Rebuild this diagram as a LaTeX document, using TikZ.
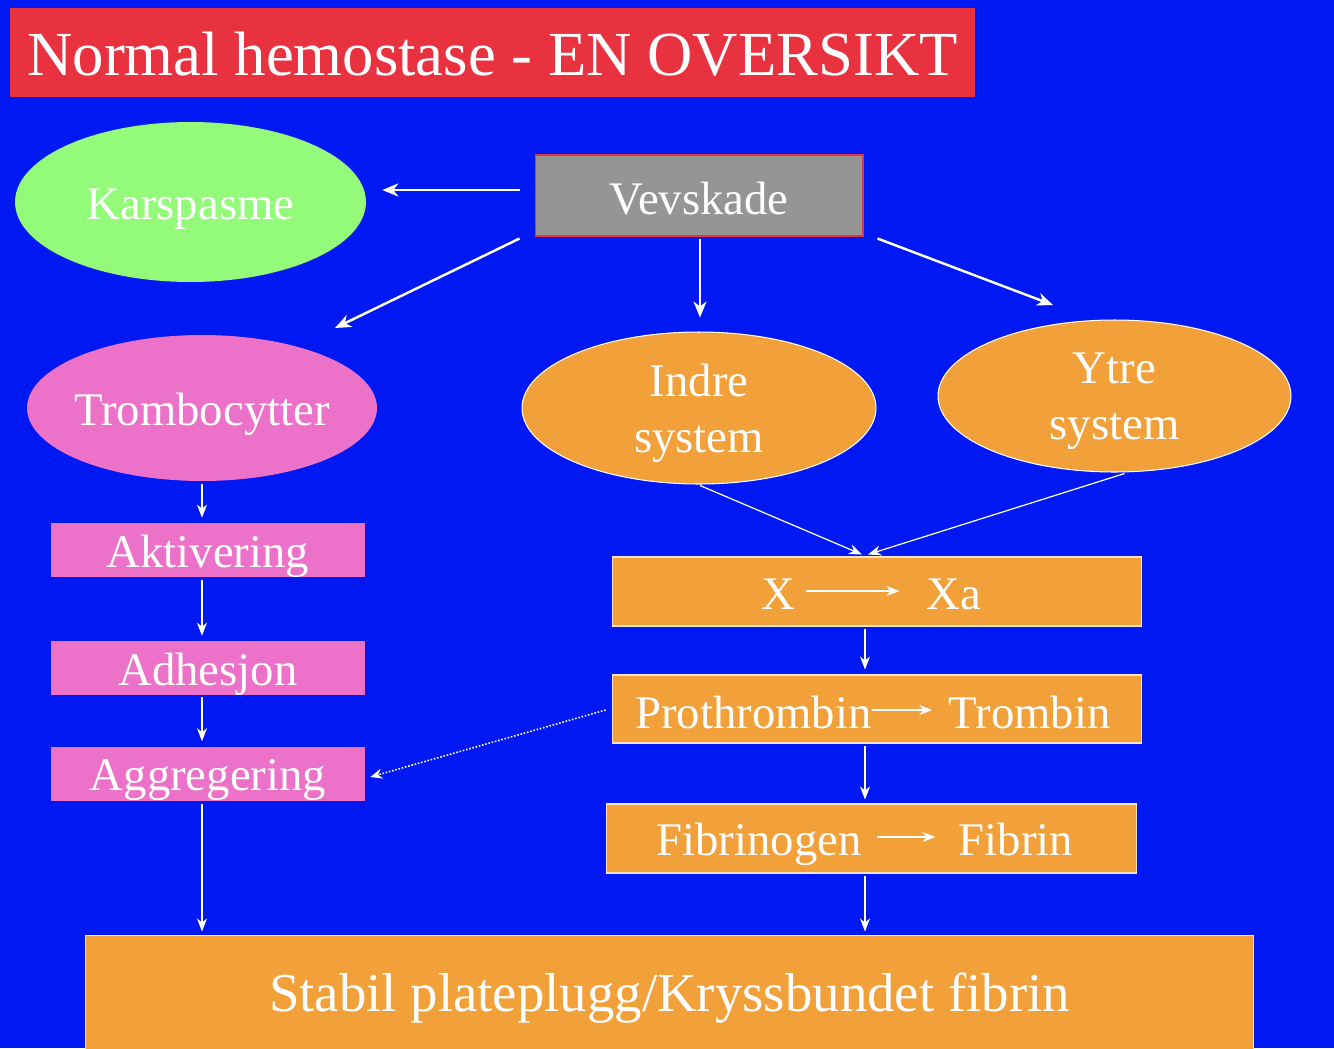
\documentclass[tikz,border=0pt]{standalone}
\usepackage{fontspec}
\setmainfont{Liberation Serif}
\usetikzlibrary{shapes.geometric,arrows.meta}
\definecolor{hemblue}{HTML}{0018F2}
\definecolor{hemred}{HTML}{E83240}
\definecolor{hemgreen}{HTML}{94FB7A}
\definecolor{hemgray}{HTML}{959595}
\definecolor{hempink}{HTML}{EB72C8}
\definecolor{hemorange}{HTML}{F2A03A}

\begin{document}
\begin{tikzpicture}[x=0.02cm,y=-0.02cm,
  txt/.style={text=white,inner sep=0pt,font=\fontsize{26.6}{31.75}\selectfont,text height=0.88cm,text depth=0.2cm},
  oval/.style={ellipse,txt},
  sysoval/.style={ellipse,fill=hemorange,draw=white,line width=0.6pt,inner sep=0pt,text=white,align=center,
    font=\fontsize{26.6}{31.75}\selectfont,text depth=0cm,minimum height=3.04cm},
  pinkbox/.style={rectangle,fill=hempink,minimum width=6.28cm,minimum height=1.08cm,txt},
  orangebox/.style={rectangle,fill=hemorange,draw=white!70!hemorange,line width=0.6pt,minimum height=1.38cm},
  rowtxt/.style={anchor=base,txt,text height=0.72cm,text depth=0cm},
  bigarrow/.style={white,line width=1.4pt,-{Stealth[length=0.32cm,width=0.26cm,inset=0.1cm]}},
  arrow/.style={white,line width=0.7pt,-{Stealth[length=0.26cm,width=0.2cm,inset=0.08cm]}},
  dotarrow/.style={white,line width=0.9pt,dash pattern=on 0.9pt off 1pt,-{Stealth[length=0.24cm,width=0.2cm,inset=0.08cm]}}]
  \useasboundingbox (0,0) rectangle (1334,1048);
  \clip (0,0) rectangle (1334,1048);
  \fill[hemblue] (0,0) rectangle (1334,1048);
  \node[fill=hemred,minimum width=19.3cm,minimum height=1.78cm,inner sep=0pt,text=white,
    font=\fontsize{35.7}{40}\selectfont,text height=1.21cm,text depth=0.27cm] (title) at (492.5,52.5) {Normal hemostase - EN OVERSIKT};
  \node[oval,fill=hemgreen,minimum width=7.02cm,minimum height=3.2cm] (kar) at (190.5,202) {Karspasme};
  \node[fill=hemgray,draw=hemred,line width=0.6pt,minimum width=6.56cm,minimum height=1.62cm,txt,text height=0.98cm] (vev) at (699,195.5) {Vevskade};
  \node[oval,fill=hempink,minimum width=7cm,minimum height=2.92cm,inner xsep=-0.12cm] (trom) at (202,408) {Trombocytter};
  \node[sysoval,minimum width=7.08cm] (ind) at (699,408) {Indre\\system};
  \node[sysoval,minimum width=7.06cm] (ytr) at (1114.5,396) {Ytre\\system};
  \node[pinkbox] (akt) at (208,550) {Aktivering};
  \node[pinkbox] (adh) at (208,668) {Adhesjon};
  \node[pinkbox] (agg) at (208,773.5) {Aggregering};
  \node[orangebox,minimum width=10.6cm] (xrow) at (877,591.5) {};
  \node[orangebox,minimum width=10.6cm,minimum height=1.36cm] (prow) at (877,709) {};
  \node[orangebox,minimum width=10.62cm] (frow) at (871.5,838.5) {};
  \node[rowtxt] (x) at (778,609) {X};
  \node[rowtxt] (xa) at (954,609) {Xa};
  \node[rowtxt] (pro) at (753.5,728) {Prothrombin};
  \node[rowtxt] (tro) at (1029.5,728) {Trombin};
  \node[rowtxt] (fbg) at (759,855) {Fibrinogen};
  \node[rowtxt] (fbr) at (1016,855) {Fibrin};
  \node[orangebox,minimum width=23.38cm,minimum height=2.32cm,inner sep=0pt,text=white,
    font=\fontsize{31.2}{36}\selectfont,text height=0.96cm,text depth=0.24cm] (stab) at (669.5,993) {Stabil plateplugg/Kryssbundet fibrin};
  \draw[bigarrow] ([shift={(-15,-5.5)}]vev.west) -- ([shift={(16,-12)}]kar.east);
  \draw[bigarrow] ([shift={(-15,2)}]vev.south west) -- ([shift={(133,-80)}]trom.center);
  \draw[bigarrow] ([shift={(1,2)}]vev.south) -- ([shift={(1,-14)}]ind.north);
  \draw[bigarrow] ([shift={(14,2)}]vev.south east) -- ([shift={(-61.5,-91)}]ytr.center);
  \draw[arrow] ([shift={(1,1)}]ind.south) -- ([shift={(-15,-2)}]xrow.north);
  \draw[arrow] ([shift={(10,1)}]ytr.south) -- ([shift={(-9,-2)}]xrow.north);
  \draw[arrow,shorten <=0.06cm,shorten >=0.1cm] (trom.south) -- (trom.south |- akt.north);
  \draw[arrow,shorten <=0.06cm,shorten >=0.1cm] (trom.south |- akt.south) -- (trom.south |- adh.north);
  \draw[arrow,shorten <=0.04cm,shorten >=0.1cm] (trom.south |- adh.south) -- (trom.south |- agg.north);
  \draw[arrow,shorten <=0.06cm,shorten >=0.06cm] (trom.south |- agg.south) -- (trom.south |- stab.north);
  \draw[arrow,shorten <=0.04cm,shorten >=0.1cm] ([shift={(-12,0)}]xrow.south) -- ([shift={(-12,0)}]prow.north);
  \draw[arrow,shorten <=0.04cm,shorten >=0.08cm] ([shift={(-12,0)}]prow.south) -- ([shift={(-6.5,0)}]frow.north);
  \draw[arrow,shorten <=0.04cm,shorten >=0.06cm] ([shift={(-6.5,0)}]frow.south) -- ([shift={(-6.5,0)}]frow.south |- stab.north);
  \draw[dotarrow] ([shift={(-6,1)}]prow.west) -- ([shift={(5,3.5)}]agg.east);
  \draw[arrow] ([shift={(11,0)}]x.east) -- ([shift={(-27,0)}]xa.west);
  \draw[arrow] (pro.east) -- ([shift={(-16,0)}]tro.west);
  \draw[arrow] ([shift={(15,0)}]fbg.east) -- ([shift={(-23,0)}]fbr.west);
\end{tikzpicture}
\end{document}
